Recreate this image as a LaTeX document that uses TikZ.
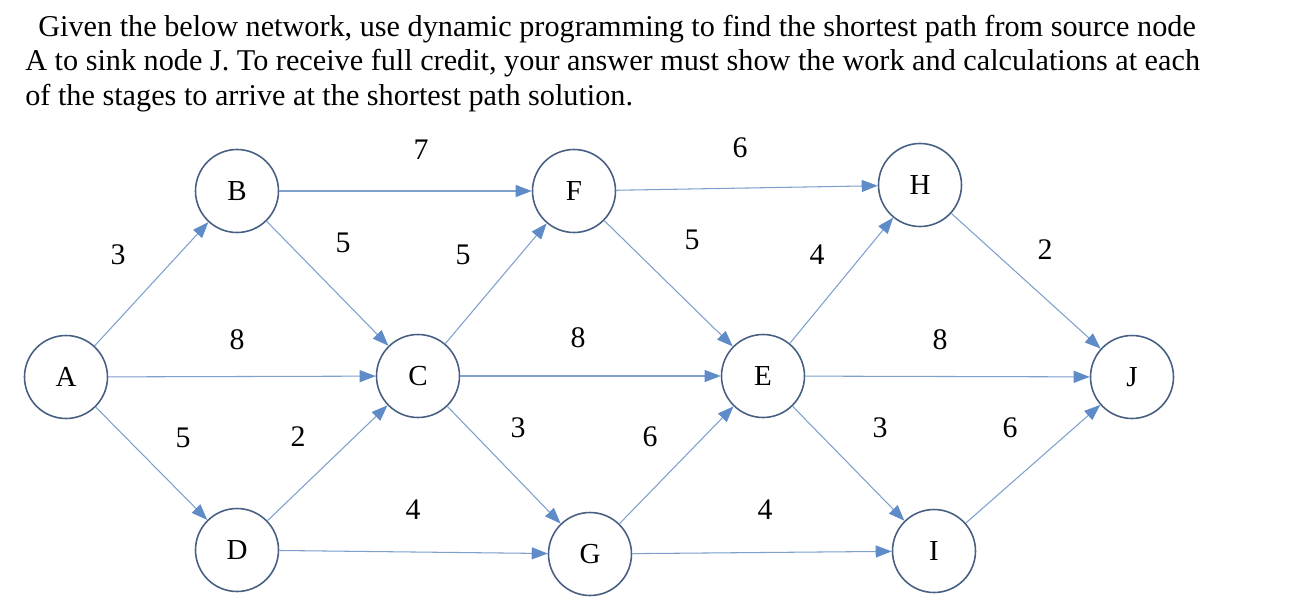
\documentclass[tikz,border=0pt]{standalone}
\usepackage{fontspec}
\setmainfont{Liberation Serif}
\usetikzlibrary{arrows.meta}
\definecolor{edgec}{RGB}{125,160,205}
\definecolor{tipc}{RGB}{95,140,200}
\definecolor{circc}{RGB}{70,95,130}
\begin{document}
\begin{tikzpicture}[
  nd/.style={circle,draw=circc,line width=0.9pt,minimum size=1.66cm,inner sep=0pt,font=\fontsize{16.5}{19}\selectfont},
  ed/.style={draw=edgec,line width=0.6pt,-{Triangle[length=0.32cm,width=0.24cm,fill=tipc,color=tipc]}},
  lb/.style={font=\fontsize{17}{20}\selectfont},
  tx/.style={anchor=base west,inner sep=0pt,font=\fontsize{17.2}{20}\selectfont}]
\useasboundingbox (0,0) rectangle (26,-12.12);
\node[tx] (t1) at (0.76,-0.72) {Given the below network, use dynamic programming to find the shortest path from source node};
\node[tx] (t2) at (0.5,-1.40) {A to sink node J. To receive full credit, your answer must show the work and calculations at each};
\node[tx] (t3) at (0.5,-2.10) {of the stages to arrive at the shortest path solution.};
\node[nd] (A) at (1.32,-7.54) {A};
\node[nd] (B) at (4.74,-3.82) {B};
\node[nd] (C) at (8.36,-7.52) {C};
\node[nd] (D) at (4.74,-11.0) {D};
\node[nd] (F) at (11.48,-3.82) {F};
\node[nd] (E) at (15.26,-7.52) {E};
\node[nd] (G) at (11.8,-11.08) {G};
\node[nd] (H) at (18.4,-3.7) {H};
\node[nd] (I) at (18.68,-11.02) {I};
\node[nd] (J) at (22.64,-7.54) {J};
\draw[ed] (A) -- (B); \draw[ed] (A) -- (C); \draw[ed] (A) -- (D);
\draw[ed] (B) -- (F); \draw[ed] (B) -- (C); \draw[ed] (D) -- (C); \draw[ed] (D) -- (G);
\draw[ed] (C) -- (F); \draw[ed] (C) -- (E); \draw[ed] (C) -- (G);
\draw[ed] (F) -- (H); \draw[ed] (F) -- (E); \draw[ed] (G) -- (E); \draw[ed] (G) -- (I);
\draw[ed] (E) -- (H); \draw[ed] (E) -- (J); \draw[ed] (E) -- (I);
\draw[ed] (H) -- (J); \draw[ed] (I) -- (J);
\node[lb] (l1) at (2.36,-5.10) {3};
\node[lb] (l2) at (8.42,-3.0) {7};
\node[lb] (l3) at (6.86,-4.86) {5};
\node[lb] (l4) at (9.26,-5.10) {5};
\node[lb] (l5) at (14.8,-2.96) {6};
\node[lb] (l6) at (13.84,-4.80) {5};
\node[lb] (l7) at (16.34,-5.10) {4};
\node[lb] (l8) at (20.9,-5.0) {2};
\node[lb] (l9) at (4.74,-6.80) {8};
\node[lb] (l10) at (11.56,-6.76) {8};
\node[lb] (l11) at (18.8,-6.80) {8};
\node[lb] (l12) at (3.66,-8.76) {5};
\node[lb] (l13) at (5.96,-8.74) {2};
\node[lb] (l14) at (10.36,-8.56) {3};
\node[lb] (l15) at (13.0,-8.74) {6};
\node[lb] (l16) at (17.6,-8.56) {3};
\node[lb] (l17) at (20.2,-8.56) {6};
\node[lb] (l18) at (8.26,-10.2) {4};
\node[lb] (l19) at (15.3,-10.2) {4};
\end{tikzpicture}
\end{document}
